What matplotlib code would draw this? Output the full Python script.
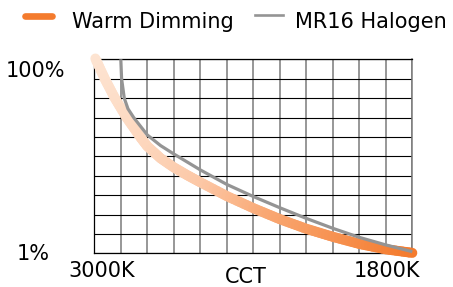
import numpy as np
import matplotlib
matplotlib.use('Agg')
import matplotlib.pyplot as plt
from matplotlib.collections import LineCollection
from matplotlib.colors import LinearSegmentedColormap
from matplotlib.lines import Line2D

# values (CCT in K, light level in %)
warm_cct = [2996, 2960, 2922, 2878, 2827, 2800, 2750, 2700, 2650, 2600,
            2500, 2400, 2300, 2200, 2100, 2000, 1900, 1800]
warm_level = [101.9, 62.5, 39.6, 25.0, 15.85, 12.7, 9.55, 7.69, 6.40, 5.40,
              3.89, 2.92, 2.25, 1.79, 1.48, 1.25, 1.10, 1.01]

halogen_cct = [2900, 2897, 2887, 2873, 2851, 2800, 2750, 2700, 2600,
               2500, 2400, 2300, 2200, 2100, 2000, 1900, 1800]
halogen_level = [100, 63.1, 39.8, 30.9, 25.0, 16.6, 12.9, 10.57, 7.24,
                 5.13, 3.85, 2.95, 2.29, 1.81, 1.46, 1.22, 1.04]

series_names = ['Warm Dimming', 'MR16 Halogen']
x_labels = ['3000K', '1800K']
y_labels = ['100%', '1%']
x_title = 'CCT'

W, H = 453, 287
FS = 15
ORANGE = '#f47b2d'
GREY = '#949494'

def fx(px):
    return px / W

def fy(py):
    return 1 - py / H

fig = plt.figure(figsize=(W / 100, H / 100), dpi=100)
ax = fig.add_axes([fx(94.3), fy(253.3), (412.3 - 94.3) / W, (253.3 - 59.3) / H])

ax.set_yscale('log')
ax.set_xlim(3000, 1800)
ax.set_ylim(1, 100)

# grid: 12 columns (100K each), 10 rows (log steps)
ax.set_xticks(np.arange(1800, 3001, 100))
ax.set_yticks(10 ** (np.arange(11) / 5))
ax.yaxis.set_minor_locator(matplotlib.ticker.NullLocator())
ax.tick_params(which='both', length=0, labelbottom=False, labelleft=False)
ax.xaxis.grid(True, color='#7a7a7a', lw=1.1)
ax.yaxis.grid(True, color='black', lw=0.8)
ax.set_axisbelow(True)
for side in ['left', 'top', 'bottom']:
    ax.spines[side].set_color('black')
    ax.spines[side].set_linewidth(0.9)
ax.spines['right'].set_color('#7a7a7a')
ax.spines['right'].set_linewidth(1.1)

# warm dimming: thick line with a pale -> orange gradient
cmap = LinearSegmentedColormap.from_list(
    'warm', [(0, '#fde4d2'), (0.35, '#fcc7a5'), (0.55, '#f9a874'), (1.0, ORANGE)])
wx = np.array(warm_cct, float)
wy = np.log10(np.array(warm_level, float))
segs, cols = [], []
n_sub = 8
for i in range(len(wx) - 1):
    xs = np.linspace(wx[i], wx[i + 1], n_sub + 1)
    ys = np.linspace(wy[i], wy[i + 1], n_sub + 1)
    for j in range(n_sub):
        segs.append([(xs[j], 10 ** ys[j]), (xs[j + 1], 10 ** ys[j + 1])])
        cols.append(cmap((3000 - 0.5 * (xs[j] + xs[j + 1])) / 1200))
lc = LineCollection(segs, colors=cols, linewidths=7.2, capstyle='round',
                    joinstyle='round', zorder=3, clip_on=False)
ax.add_collection(lc)

ax.plot(halogen_cct, halogen_level, color=GREY, lw=2.3, zorder=4,
        solid_capstyle='butt', solid_joinstyle='round', clip_on=False)

# axis texts
fig.text(fx(65), fy(76.7), y_labels[0], ha='right', va='baseline', fontsize=FS)
fig.text(fx(50), fy(260), y_labels[1], ha='right', va='baseline', fontsize=FS)
fig.text(fx(101.5), fy(276.7), x_labels[0], ha='center', va='baseline', fontsize=FS)
fig.text(fx(387), fy(276.7), x_labels[1], ha='center', va='baseline', fontsize=FS)
fig.text(fx(245.5), fy(283), x_title, ha='center', va='baseline', fontsize=FS)

# legend
fig.add_artist(Line2D([fx(25), fx(51.7)], [fy(16), fy(16)], color=ORANGE, lw=4.8,
                      solid_capstyle='round'))
fig.text(fx(72), fy(28), series_names[0], ha='left', va='baseline', fontsize=FS)
fig.add_artist(Line2D([fx(255), fx(283)], [fy(15.3), fy(15.3)], color=GREY, lw=1.9))
fig.text(fx(295), fy(28), series_names[1], ha='left', va='baseline', fontsize=FS)

plt.savefig('out.png', dpi=100)
plt.close()
